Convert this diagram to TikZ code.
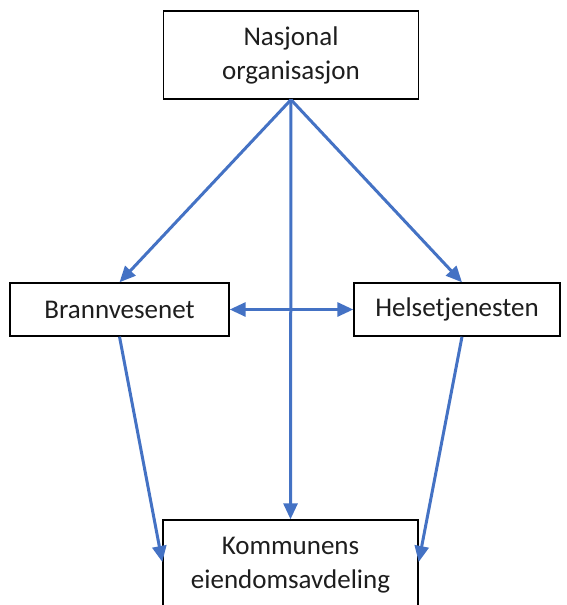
\documentclass[tikz,border=0pt]{standalone}
\usepackage{fontspec}
\setmainfont{Carlito}
\usetikzlibrary{arrows.meta,calc}
\definecolor{arrowblue}{HTML}{4472C4}
\definecolor{textgray}{HTML}{1E1E1E}
\begin{document}
\begin{tikzpicture}[x=1pt,y=1pt,
  box/.style={draw=black,line width=1.4pt,fill=white,inner sep=0pt,align=center,
    font=\fontsize{27}{34}\selectfont,text=textgray},
  conn/.style={draw=arrowblue,line width=3pt,-{Triangle[length=16pt,width=14pt]}},
  dconn/.style={draw=arrowblue,line width=3pt,{Triangle[length=16pt,width=14pt]}-{Triangle[length=16pt,width=14pt]}}]
\useasboundingbox (0,0) rectangle (566,-605);
\node[box,minimum width=255pt,minimum height=88pt] (top) at (291,-55) {Nasjonal\\organisasjon};
\node[box,minimum width=219pt,minimum height=53pt] (brann) at (119.5,-309.5) {Brannvesenet};
\node[box,minimum width=206pt,minimum height=53pt] (helse) at (457,-309.5) {Helsetjenesten};
\node[box,minimum width=255pt,minimum height=90pt] (bottom) at (290.5,-565) {Kommunens\\eiendomsavdeling};
\draw[conn] (top.south) -- (brann.north);
\draw[conn] (top.south) -- ($(helse.north)+(5,0)$);
\draw[conn] (top.south) -- (bottom.north);
\draw[dconn] (brann.east) -- (helse.west);
\draw[conn] (brann.south) -- ($(bottom.west)+(0,3)$);
\draw[conn] ($(helse.south)+(5,0)$) -- ($(bottom.east)+(0,3)$);
\end{tikzpicture}
\end{document}
